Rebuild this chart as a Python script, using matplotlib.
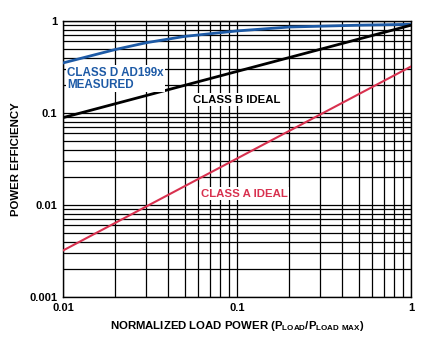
import numpy as np
import matplotlib
matplotlib.use('Agg')
import matplotlib.pyplot as plt

plt.rcParams['font.family'] = ['Liberation Sans', 'DejaVu Sans']
plt.rcParams['font.weight'] = 'bold'
plt.rcParams['axes.labelweight'] = 'bold'
plt.rcParams['mathtext.fontset'] = 'custom'
plt.rcParams['mathtext.rm'] = 'Liberation Sans:bold'
plt.rcParams['mathtext.default'] = 'rm'

## values
load_d = [0.01, 0.02, 0.03, 0.05, 0.1, 0.2, 0.5, 1.0]
eff_d = [0.35, 0.49, 0.58, 0.68, 0.78, 0.86, 0.90, 0.92]

load_b = [0.01, 1.0]
eff_b = [0.089, 0.90]

load_a = [0.01, 1.0]
eff_a = [0.0032, 0.32]

x_ticks = [0.01, 0.1, 1]
x_tick_labels = ['0.01', '0.1', '1']
y_ticks = [0.001, 0.01, 0.1, 1]
y_tick_labels = ['0.001', '0.01', '0.1', '1']

blue = '#1d5aa6'
red = '#d8314f'

fig = plt.figure(figsize=(4.27, 3.37), dpi=100)
ax = fig.add_axes([0.1475, 0.1187, 0.815, 0.819])

ax.set_xscale('log')
ax.set_yscale('log')
ax.set_xlim(0.01, 1)
ax.set_ylim(0.001, 1)

ax.grid(True, which='both', color='black', lw=0.9)
ax.set_axisbelow(True)
for s in ax.spines.values():
    s.set_linewidth(1.0)

ax.plot(load_d, eff_d, color=blue, lw=2.0, zorder=3)
ax.plot(load_b, eff_b, color='black', lw=2.0, zorder=3)
ax.plot(load_a, eff_a, color=red, lw=1.5, zorder=3)

ax.set_xticks(x_ticks)
ax.set_xticklabels(x_tick_labels)
ax.set_yticks(y_ticks)
ax.set_yticklabels(y_tick_labels)
ax.tick_params(which='both', length=0, labelsize=8, pad=4)
ax.minorticks_on()
ax.tick_params(which='minor', length=0, labelleft=False, labelbottom=False)
ax.xaxis.set_minor_formatter(matplotlib.ticker.NullFormatter())
ax.yaxis.set_minor_formatter(matplotlib.ticker.NullFormatter())

box = dict(facecolor='white', edgecolor='none', pad=1.0)
ax.text(0.0106, 0.235, 'CLASS D AD199x\nMEASURED', color=blue, fontsize=8.4,
        ha='left', va='center', linespacing=1.0, bbox=box, zorder=4)
ax.text(0.056, 0.14, 'CLASS B IDEAL', color='black', fontsize=8.2,
        ha='left', va='center', bbox=box, zorder=4)
ax.text(0.062, 0.0133, 'CLASS A IDEAL', color=red, fontsize=8.2,
        ha='left', va='center', bbox=box, zorder=4)

ax.set_xlabel(r'NORMALIZED LOAD POWER (P$_{LOAD}$/P$_{LOAD\ MAX}$)', fontsize=8.2, labelpad=5)
ax.set_ylabel('POWER EFFICIENCY', fontsize=8.2, labelpad=6)

fig.savefig('out.png', dpi=100)
